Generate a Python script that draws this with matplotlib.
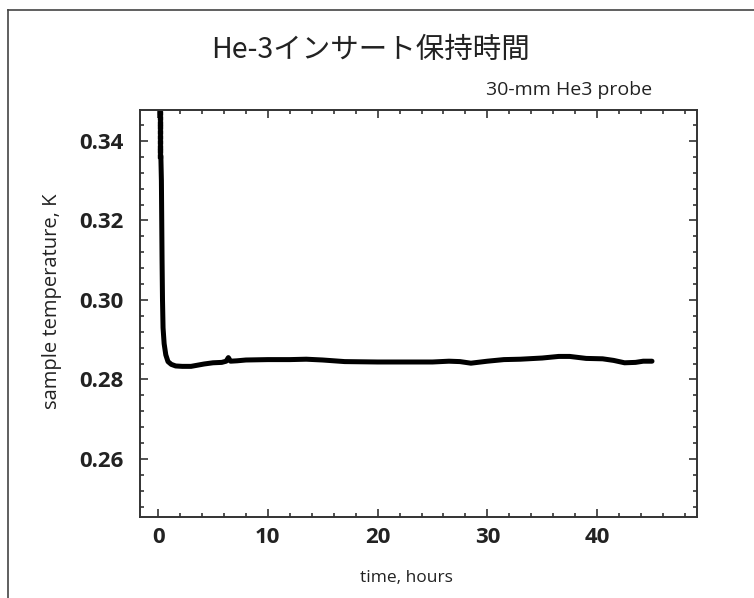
import matplotlib
matplotlib.use("Agg")
import matplotlib.pyplot as plt
from matplotlib.lines import Line2D
from matplotlib.ticker import MultipleLocator

# ---- data ----
title_text = "He-3インサート保持時間"
probe_text = "30-mm He3 probe"
x_label = "time, hours"
y_label = "sample temperature, K"

start_time = [0.2, 0.2, 0.2, 0.2, 0.2, 0.2, 0.2, 0.2, 0.2, 0.2]
start_temp = [0.3470, 0.3458, 0.3446, 0.3434, 0.3422, 0.3410, 0.3398, 0.3386, 0.3374, 0.3362]

time_h = [0.25, 0.30, 0.33, 0.36, 0.40, 0.45, 0.55, 0.70, 0.90, 1.2, 1.6, 2.2, 3.0,
          3.6, 4.2, 5.0, 5.8, 6.2, 6.4, 6.6, 7.2, 8.0, 10.0, 12.0, 13.5, 15.0,
          17.0, 20.0, 23.0, 25.0, 26.5, 27.5, 28.5, 30.0, 31.5, 33.0, 35.0,
          36.5, 37.5, 39.0, 40.5, 41.5, 42.5, 43.5, 44.2, 45.0]
temp_K = [0.3362, 0.3300, 0.3200, 0.3100, 0.3000, 0.2930, 0.2890, 0.2862, 0.2845, 0.2838,
          0.2834, 0.2833, 0.2833, 0.2836, 0.2839, 0.2842, 0.2843, 0.2846, 0.2855, 0.2846,
          0.2847, 0.2849, 0.2850, 0.2850, 0.2851, 0.2849, 0.2845, 0.2844, 0.2844, 0.2844,
          0.2846, 0.2845, 0.2841, 0.2846, 0.2850, 0.2851, 0.2854, 0.2858, 0.2858, 0.2853,
          0.2852, 0.2848, 0.2842, 0.2843, 0.2846, 0.2846]

x_ticks = [0, 10, 20, 30, 40]
y_ticks = [0.26, 0.28, 0.30, 0.32, 0.34]

# ---- figure ----
fig = plt.figure(figsize=(7.54, 5.98), dpi=100)
ax = fig.add_axes([140 / 754, 1 - 517 / 598, (697 - 140) / 754, (517 - 110) / 598])

ax.plot(time_h, temp_K, color="black", lw=3.6, solid_capstyle="round", solid_joinstyle="round")
ax.plot(start_time, start_temp, ls="none", marker="s", ms=2.2, color="black")

ax.set_xlim(-1.65, 49.1)
ax.set_ylim(0.2454, 0.3478)
ax.set_xticks(x_ticks)
ax.set_yticks(y_ticks)
ax.set_yticklabels([f"{v:.2f}" for v in y_ticks])
ax.xaxis.set_minor_locator(MultipleLocator(2))
ax.yaxis.set_minor_locator(MultipleLocator(0.004))

frame_col = "#333333"
for s in ax.spines.values():
    s.set_color(frame_col)
    s.set_linewidth(1.4)
ax.tick_params(which="both", direction="in", top=True, right=True, color=frame_col, width=1.2)
ax.tick_params(which="major", length=6)
ax.tick_params(which="minor", length=3)
ax.tick_params(axis="both", which="major", labelsize=16)
ax.tick_params(axis="y", which="major", pad=12)
ax.tick_params(axis="x", which="major", pad=7)
for lab in ax.get_xticklabels() + ax.get_yticklabels():
    lab.set_fontfamily("Open Sans")
    lab.set_fontweight("bold")
    lab.set_color("#222222")

ax.set_xlabel(x_label, fontfamily="Open Sans", fontsize=12.5, color="#222222")
ax.set_ylabel(y_label, fontfamily="Open Sans", fontsize=14.5, color="#222222")
ax.xaxis.set_label_coords(0.478, -0.13)
ax.yaxis.set_label_coords(-0.14, 0.53)

fig.text(370 / 754, 1 - 50 / 598, title_text, ha="center", va="center",
         fontsize=20.5, family=["Noto Sans CJK JP", "DejaVu Sans"], color="#222222")
fig.text(652 / 754, 1 - 90 / 598, probe_text, ha="right", va="center",
         fontsize=14, family="Open Sans", color="#222222")

# outer frame (top and left edges visible)
fig.add_artist(Line2D([8 / 754, 1.0], [1 - 10 / 598, 1 - 10 / 598], transform=fig.transFigure,
                      color="#444444", lw=1.2))
fig.add_artist(Line2D([8 / 754, 8 / 754], [0.0, 1 - 10 / 598], transform=fig.transFigure,
                      color="#444444", lw=1.2))

fig.savefig("out.png", dpi=100)
